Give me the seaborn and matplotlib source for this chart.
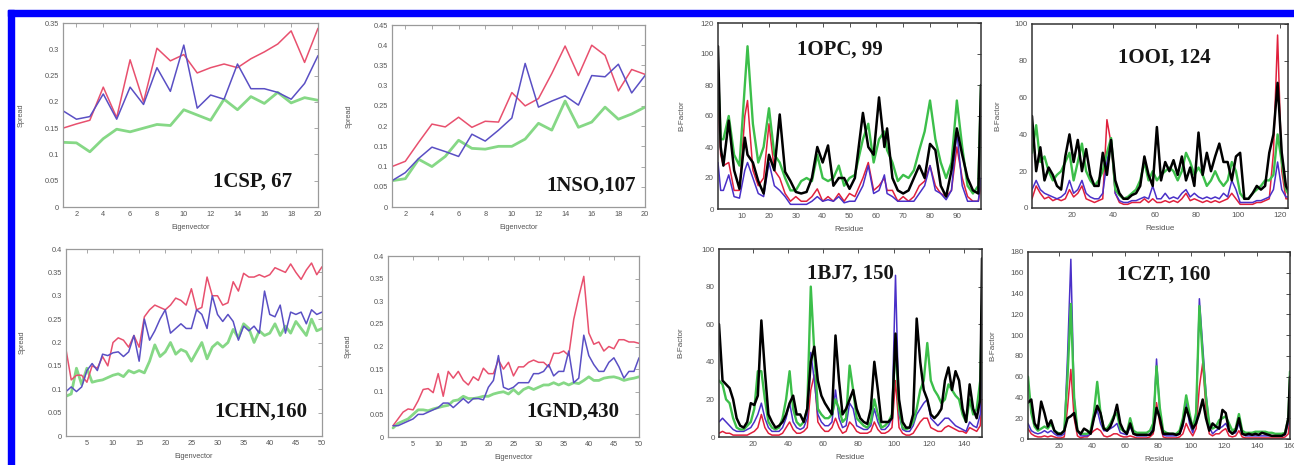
import matplotlib
matplotlib.use("Agg")
import matplotlib.pyplot as plt
import seaborn as sns
from matplotlib.patches import Rectangle

# ---------------- data: spread vs eigenvector ----------------
EIG20 = list(range(1, 21))
EIG50 = list(range(1, 51))

csp_red = [0.15, 0.158, 0.165, 0.228, 0.17, 0.28, 0.20, 0.302, 0.278, 0.29,
           0.255, 0.265, 0.272, 0.265, 0.282, 0.295, 0.31, 0.335, 0.275, 0.34]
csp_blue = [0.183, 0.167, 0.172, 0.215, 0.167, 0.228, 0.195, 0.265, 0.22, 0.308,
            0.188, 0.213, 0.205, 0.272, 0.225, 0.225, 0.218, 0.205, 0.235, 0.288]
csp_green = [0.123, 0.122, 0.105, 0.13, 0.148, 0.143, 0.15, 0.157, 0.155, 0.185,
             0.175, 0.165, 0.205, 0.185, 0.21, 0.197, 0.218, 0.198, 0.208, 0.203]

nso_red = [0.10, 0.113, 0.16, 0.205, 0.198, 0.222, 0.197, 0.212, 0.21, 0.283,
           0.25, 0.268, 0.33, 0.398, 0.325, 0.40, 0.375, 0.287, 0.34, 0.328]
nso_blue = [0.065, 0.085, 0.12, 0.148, 0.137, 0.125, 0.18, 0.163, 0.19, 0.22,
            0.355, 0.247, 0.262, 0.275, 0.252, 0.325, 0.322, 0.353, 0.282, 0.325]
nso_green = [0.065, 0.07, 0.118, 0.10, 0.125, 0.165, 0.145, 0.143, 0.15, 0.15,
             0.168, 0.207, 0.19, 0.262, 0.197, 0.21, 0.247, 0.217, 0.23, 0.247]

chn_red = [0.185, 0.12, 0.13, 0.13, 0.115, 0.15, 0.145, 0.17, 0.15, 0.20,
           0.21, 0.205, 0.19, 0.215, 0.19, 0.255, 0.27, 0.28, 0.275, 0.27,
           0.28, 0.295, 0.29, 0.28, 0.315, 0.27, 0.275, 0.34, 0.30, 0.30,
           0.28, 0.285, 0.33, 0.31, 0.348, 0.34, 0.34, 0.345, 0.34, 0.345,
           0.36, 0.355, 0.35, 0.368, 0.35, 0.335, 0.355, 0.37, 0.345, 0.362]
chn_blue = [0.095, 0.105, 0.095, 0.105, 0.14, 0.155, 0.14, 0.175, 0.172, 0.178,
            0.18, 0.17, 0.18, 0.215, 0.16, 0.25, 0.205, 0.225, 0.25, 0.27,
            0.22, 0.23, 0.24, 0.23, 0.23, 0.27, 0.26, 0.23, 0.30, 0.26,
            0.245, 0.26, 0.245, 0.205, 0.235, 0.225, 0.235, 0.22, 0.31, 0.26,
            0.255, 0.28, 0.22, 0.265, 0.26, 0.265, 0.24, 0.27, 0.26, 0.265]
chn_green = [0.085, 0.09, 0.145, 0.11, 0.145, 0.115, 0.118, 0.12, 0.125, 0.13,
             0.133, 0.127, 0.14, 0.135, 0.14, 0.135, 0.16, 0.195, 0.17, 0.18,
             0.20, 0.175, 0.185, 0.18, 0.16, 0.18, 0.20, 0.165, 0.19, 0.20,
             0.19, 0.20, 0.228, 0.21, 0.24, 0.23, 0.20, 0.225, 0.215, 0.22,
             0.24, 0.215, 0.235, 0.22, 0.245, 0.23, 0.215, 0.25, 0.225, 0.23]

gnd_red = [0.025, 0.04, 0.055, 0.062, 0.06, 0.08, 0.105, 0.107, 0.098, 0.14,
           0.09, 0.145, 0.13, 0.145, 0.125, 0.115, 0.133, 0.125, 0.152, 0.14,
           0.14, 0.17, 0.15, 0.165, 0.135, 0.155, 0.155, 0.165, 0.17, 0.165,
           0.165, 0.155, 0.185, 0.185, 0.19, 0.18, 0.26, 0.31, 0.355, 0.23,
           0.205, 0.21, 0.19, 0.20, 0.195, 0.215, 0.215, 0.21, 0.21, 0.207]
gnd_blue = [0.025, 0.025, 0.03, 0.035, 0.04, 0.05, 0.05, 0.055, 0.06, 0.065,
            0.075, 0.075, 0.065, 0.075, 0.085, 0.075, 0.085, 0.085, 0.082, 0.11,
            0.125, 0.18, 0.11, 0.105, 0.11, 0.12, 0.12, 0.12, 0.14, 0.14,
            0.145, 0.16, 0.135, 0.145, 0.145, 0.19, 0.12, 0.13, 0.225, 0.18,
            0.16, 0.145, 0.145, 0.165, 0.175, 0.155, 0.13, 0.145, 0.145, 0.175]
gnd_green = [0.02, 0.03, 0.035, 0.04, 0.05, 0.06, 0.06, 0.058, 0.062, 0.065,
             0.068, 0.07, 0.08, 0.082, 0.09, 0.085, 0.085, 0.087, 0.09, 0.09,
             0.095, 0.098, 0.10, 0.095, 0.105, 0.095, 0.105, 0.11, 0.105, 0.11,
             0.115, 0.115, 0.12, 0.115, 0.12, 0.115, 0.12, 0.118, 0.125, 0.133,
             0.125, 0.125, 0.13, 0.132, 0.133, 0.13, 0.125, 0.128, 0.13, 0.133]

# ---------------- data: B-factor vs residue ----------------
opc_x = [1, 2, 3, 5, 7, 9, 11, 12, 14, 16, 18, 20, 22, 24, 26, 28, 30, 32, 34, 36,
         38, 40, 42, 44, 46, 48, 50, 52, 55, 57, 59, 61, 63, 64, 66, 68, 70, 72, 74, 76,
         78, 80, 82, 84, 86, 88, 90, 92, 94, 96, 98, 99]
opc_black = [105, 40, 28, 57, 25, 13, 46, 35, 30, 18, 10, 35, 25, 61, 24, 18, 11, 10, 11, 20,
             40, 30, 41, 15, 20, 20, 13, 20, 62, 40, 35, 72, 40, 52, 20, 12, 10, 12, 20, 28,
             20, 42, 38, 15, 8, 25, 52, 35, 20, 12, 10, 80]
opc_green = [90, 45, 45, 60, 35, 28, 80, 105, 55, 30, 40, 65, 35, 30, 20, 12, 12, 18, 20, 18,
             35, 20, 18, 20, 28, 15, 20, 22, 45, 55, 30, 45, 50, 38, 30, 18, 22, 20, 25, 38,
             50, 70, 45, 30, 20, 30, 70, 40, 15, 10, 15, 80]
opc_red = [70, 35, 28, 30, 12, 12, 60, 70, 25, 15, 20, 55, 25, 20, 10, 5, 8, 5, 5, 8,
           13, 5, 8, 5, 10, 5, 10, 8, 20, 30, 12, 15, 20, 12, 12, 5, 8, 5, 8, 15,
           18, 28, 15, 10, 8, 12, 40, 20, 8, 5, 5, 15]
opc_blue = [30, 12, 12, 22, 8, 7, 25, 30, 20, 10, 8, 30, 15, 12, 8, 3, 3, 3, 3, 5,
            8, 5, 6, 5, 8, 4, 5, 5, 15, 28, 10, 12, 22, 10, 8, 5, 5, 5, 5, 10,
            15, 28, 12, 10, 6, 12, 50, 15, 5, 5, 5, 20]

ooi_x = list(range(1, 124, 2)) + [124]
ooi_black = [50, 20, 33, 15, 22, 18, 12, 10, 28, 40, 25, 37, 20, 32, 18, 12, 12, 30, 18, 37,
             15, 8, 5, 5, 7, 8, 12, 28, 18, 12, 44, 15, 25, 20, 26, 18, 28, 15, 22, 12,
             41, 18, 30, 20, 28, 35, 25, 25, 15, 28, 30, 5, 5, 8, 12, 10, 12, 30, 40, 68,
             30, 12, 10]
ooi_green = [30, 45, 25, 28, 20, 15, 18, 20, 25, 30, 15, 25, 35, 20, 15, 12, 15, 20, 30, 38,
             10, 7, 5, 6, 8, 10, 15, 25, 15, 20, 15, 18, 20, 22, 20, 15, 20, 30, 25, 18,
             22, 18, 12, 15, 20, 15, 12, 15, 25, 20, 8, 5, 5, 8, 10, 12, 15, 15, 18, 40,
             25, 10, 8]
ooi_red = [5, 12, 8, 5, 6, 4, 5, 4, 5, 10, 6, 8, 12, 5, 4, 3, 4, 5, 48, 35,
           8, 3, 2, 2, 3, 3, 3, 5, 3, 5, 3, 3, 4, 3, 4, 3, 5, 8, 4, 5,
           4, 3, 4, 3, 4, 3, 4, 5, 8, 5, 2, 2, 2, 2, 3, 3, 4, 5, 30, 94,
           20, 5, 5]
ooi_blue = [10, 15, 10, 8, 7, 6, 5, 6, 8, 15, 8, 10, 15, 8, 6, 5, 5, 8, 25, 38,
            8, 4, 3, 3, 4, 4, 5, 6, 5, 12, 5, 5, 8, 5, 6, 5, 8, 10, 6, 8,
            6, 5, 6, 5, 6, 5, 8, 6, 15, 10, 3, 3, 3, 3, 4, 4, 5, 6, 10, 25,
            10, 6, 6]

bj7_x = list(range(1, 150, 2)) + [150]
bj7_black = [60, 30, 28, 26, 20, 10, 6, 5, 8, 18, 17, 22, 62, 35, 12, 8, 5, 6, 8, 12,
             18, 22, 12, 12, 8, 15, 40, 48, 30, 22, 18, 15, 12, 54, 30, 12, 15, 20, 25, 15,
             10, 8, 7, 15, 40, 25, 8, 8, 8, 10, 55, 20, 8, 5, 5, 12, 63, 40, 25, 20,
             12, 10, 12, 15, 30, 37, 25, 35, 30, 15, 8, 28, 15, 10, 20, 95]
bj7_green = [30, 28, 20, 18, 10, 5, 4, 4, 6, 8, 15, 35, 35, 20, 8, 5, 4, 5, 10, 20,
             35, 15, 8, 6, 8, 15, 80, 45, 15, 12, 10, 10, 12, 20, 15, 8, 10, 38, 25, 10,
             8, 6, 5, 8, 20, 12, 5, 6, 8, 12, 50, 15, 5, 4, 5, 8, 15, 25, 30, 50,
             30, 25, 22, 18, 20, 28, 25, 22, 20, 12, 8, 20, 12, 15, 30, 70]
bj7_red = [2, 3, 2, 2, 1, 1, 1, 1, 1, 2, 3, 5, 12, 5, 2, 1, 1, 1, 2, 5,
           8, 4, 2, 2, 3, 5, 25, 33, 8, 5, 3, 3, 5, 10, 5, 2, 3, 8, 6, 3,
           2, 2, 2, 3, 8, 4, 2, 2, 3, 5, 30, 5, 2, 1, 1, 2, 5, 8, 10, 10,
           5, 4, 3, 3, 5, 6, 5, 4, 3, 3, 2, 5, 4, 3, 6, 20]
bj7_blue = [8, 10, 8, 6, 4, 3, 3, 3, 4, 5, 8, 12, 18, 10, 5, 3, 3, 3, 5, 10,
            18, 8, 5, 4, 5, 10, 45, 30, 12, 8, 6, 6, 8, 25, 10, 5, 6, 18, 15, 6,
            5, 4, 4, 6, 15, 8, 4, 4, 6, 10, 86, 12, 4, 3, 3, 6, 12, 15, 18, 20,
            10, 8, 6, 8, 10, 10, 8, 6, 5, 4, 3, 8, 6, 5, 12, 40]

czt_x = list(range(1, 160, 2)) + [160]
czt_black = [35, 38, 15, 10, 36, 25, 12, 18, 8, 5, 5, 8, 20, 22, 25, 8, 5, 10, 8, 5,
             20, 32, 25, 10, 8, 12, 20, 33, 15, 8, 5, 15, 5, 4, 4, 4, 4, 4, 8, 30,
             20, 5, 5, 5, 5, 4, 5, 15, 30, 20, 10, 15, 25, 38, 20, 8, 15, 12, 10, 28,
             25, 8, 5, 8, 20, 5, 4, 5, 4, 5, 4, 6, 5, 4, 3, 3, 3, 3, 5, 20, 60]
czt_green = [60, 25, 12, 8, 10, 12, 10, 15, 8, 6, 5, 8, 60, 130, 40, 8, 5, 5, 5, 8,
             25, 55, 25, 10, 10, 15, 22, 25, 10, 8, 6, 20, 8, 6, 6, 6, 6, 8, 15, 70,
             30, 8, 6, 5, 5, 5, 8, 20, 42, 25, 10, 25, 128, 80, 40, 15, 10, 12, 18, 20,
             22, 15, 8, 10, 24, 8, 6, 6, 6, 7, 7, 7, 7, 6, 6, 5, 5, 5, 6, 20, 65]
czt_red = [10, 5, 3, 2, 2, 3, 2, 3, 2, 1, 1, 2, 30, 67, 20, 3, 1, 2, 2, 5,
           8, 10, 8, 3, 2, 3, 5, 5, 3, 2, 2, 3, 2, 1, 1, 1, 1, 2, 5, 35,
           15, 2, 1, 1, 1, 1, 2, 5, 15, 8, 3, 10, 50, 73, 30, 5, 3, 5, 5, 8,
           10, 3, 2, 3, 8, 2, 1, 1, 1, 1, 1, 1, 1, 1, 1, 1, 1, 1, 2, 5, 25]
czt_blue = [15, 8, 6, 5, 6, 8, 6, 8, 5, 3, 3, 5, 80, 173, 40, 8, 3, 3, 3, 5,
            20, 28, 15, 8, 8, 10, 12, 15, 6, 5, 4, 12, 5, 3, 3, 3, 3, 5, 12, 77,
            25, 4, 3, 3, 3, 3, 5, 12, 35, 15, 6, 20, 135, 90, 45, 12, 5, 8, 10, 12,
            15, 8, 5, 6, 15, 5, 3, 3, 3, 3, 3, 3, 3, 3, 3, 3, 3, 3, 4, 15, 50]

# ---------------- tick labels / titles ----------------
spread35_ticks = ["0", "0.05", "0.1", "0.15", "0.2", "0.25", "0.3", "0.35"]
spread45_ticks = ["0", "0.05", "0.1", "0.15", "0.2", "0.25", "0.3", "0.35", "0.4", "0.45"]
spread40_ticks = ["0", "0.05", "0.1", "0.15", "0.2", "0.25", "0.3", "0.35", "0.4"]
titles = ["1CSP, 67", "1NSO,107", "1CHN,160", "1GND,430",
          "1OPC, 99", "1OOI, 124", "1BJ7, 150", "1CZT, 160"]

# ---------------- figure ----------------
sns.set_style("white")
plt.rcParams["font.family"] = ["Liberation Sans", "DejaVu Sans"]

W, H = 1294, 465
fig = plt.figure(figsize=(W / 100, H / 100), dpi=100)
fig.patch.set_facecolor("white")


def rect(l, t, r, b):
    return [l / W, 1 - b / H, (r - l) / W, (b - t) / H]


def style(ax, px, xlim, xticks, ylim, yticks, ylabels, xlabel, ylabel,
          edge, fs, ylab_x, title, tpos):
    l, t, r, b = px
    ax.set_xlim(*xlim)
    ax.set_ylim(*ylim)
    ax.set_xticks(xticks)
    ax.set_xticklabels([str(v) for v in xticks])
    ax.set_yticks(yticks)
    ax.set_yticklabels(ylabels)
    ax.tick_params(direction="in", top=True, right=True, length=3, width=0.6,
                   color=edge, labelcolor="#555555", labelsize=fs, pad=3)
    for s in ax.spines.values():
        s.set_color(edge)
        s.set_linewidth(0.9 if edge != "#333333" else 1.1)
        s.set_visible(True)
    ax.set_xlabel(xlabel, fontsize=fs, color="#555555")
    ax.set_ylabel(ylabel, fontsize=fs, color="#555555")
    ax.xaxis.set_label_coords(0.5, -17 / (b - t))
    ax.yaxis.set_label_coords((ylab_x + 3 - l) / (r - l), 0.5)
    ax.text(tpos[0], tpos[1], title, transform=ax.transAxes, ha="center", va="center",
            fontsize=15, fontweight="bold", family=["Liberation Serif", "DejaVu Serif"],
            color="#151515")
    ax.set_facecolor("white")


RED_L, BLUE_L, GREEN_L = "#e8506e", "#5a4fc4", "#86d886"


def spread_panel(px, x, red, blue, green, xlim, xticks, ylim, yticks, ylabels, ylab_x, title, tpos):
    ax = fig.add_axes(rect(*px))
    sns.lineplot(x=x, y=green, ax=ax, color=GREEN_L, lw=2.0)
    sns.lineplot(x=x, y=red, ax=ax, color=RED_L, lw=1.1)
    sns.lineplot(x=x, y=blue, ax=ax, color=BLUE_L, lw=1.1)
    style(ax, px, xlim, xticks, ylim, yticks, ylabels, "Eigenvector", "Spread",
          "#9a9a9a", 5.3, ylab_x, title, tpos)
    return ax


def bfac_panel(px, x, black, green, red, blue, xlim, xticks, ylim, yticks, ylab_x, title, tpos):
    ax = fig.add_axes(rect(*px))
    sns.lineplot(x=x, y=red, ax=ax, color="#e0203c", lw=1.1)
    sns.lineplot(x=x, y=blue, ax=ax, color="#4a30c8", lw=1.1)
    sns.lineplot(x=x, y=green, ax=ax, color="#3cbf4a", lw=1.7)
    sns.lineplot(x=x, y=black, ax=ax, color="#000000", lw=1.8)
    style(ax, px, xlim, xticks, ylim, yticks, [str(v) for v in yticks], "Residue", "B-Factor",
          "#333333", 5.8, ylab_x, title, tpos)
    return ax


y35 = [0, 0.05, 0.1, 0.15, 0.2, 0.25, 0.3, 0.35]
y45 = [0, 0.05, 0.1, 0.15, 0.2, 0.25, 0.3, 0.35, 0.4, 0.45]
y40 = [0, 0.05, 0.1, 0.15, 0.2, 0.25, 0.3, 0.35, 0.4]

spread_panel((63, 23, 318, 207), EIG20, csp_red, csp_blue, csp_green, (1, 20),
             list(range(2, 21, 2)), (0, 0.35), y35, spread35_ticks, 22, titles[0], (0.745, 0.136))
spread_panel((392, 25, 645, 207), EIG20, nso_red, nso_blue, nso_green, (1, 20),
             list(range(2, 21, 2)), (0, 0.45), y45, spread45_ticks, 350, titles[1], (0.787, 0.115))
spread_panel((66, 249, 322, 436), EIG50, chn_red, chn_blue, chn_green, (1, 50),
             list(range(5, 51, 5)), (0, 0.4), y40, spread40_ticks, 23, titles[2], (0.762, 0.128))
spread_panel((388, 256, 639, 437), EIG50, gnd_red, gnd_blue, gnd_green, (0, 50),
             list(range(5, 51, 5)), (0, 0.4), y40, spread40_ticks, 349, titles[3], (0.737, 0.138))

bfac_panel((718, 23, 981, 209), opc_x, opc_black, opc_green, opc_red, opc_blue, (1, 99),
           list(range(10, 91, 10)), (0, 120), list(range(0, 121, 20)), 682, titles[4], (0.464, 0.855))
bfac_panel((1032, 24, 1288, 208), ooi_x, ooi_black, ooi_green, ooi_red, ooi_blue, (1, 124),
           list(range(20, 121, 20)), (0, 100), list(range(0, 101, 20)), 998, titles[5], (0.516, 0.82))
bfac_panel((719, 249, 982, 437), bj7_x, bj7_black, bj7_green, bj7_red, bj7_blue, (1, 150),
           list(range(20, 141, 20)), (0, 100), list(range(0, 101, 20)), 681, titles[6], (0.50, 0.867))
bfac_panel((1028, 252, 1290, 439), czt_x, czt_black, czt_green, czt_red, czt_blue, (1, 160),
           list(range(20, 161, 20)), (0, 180), list(range(0, 181, 20)), 993, titles[7], (0.52, 0.88))

# blue frame (top and left)
fig.patches.append(Rectangle((8 / W, 1 - 16 / H), 1 - 8 / W, 6 / H, transform=fig.transFigure,
                             color="#0000ff", zorder=10))
fig.patches.append(Rectangle((8 / W, 0), 6 / W, 1 - 10 / H, transform=fig.transFigure,
                             color="#0000ff", zorder=10))

fig.savefig("out.png", dpi=100, facecolor="white")
